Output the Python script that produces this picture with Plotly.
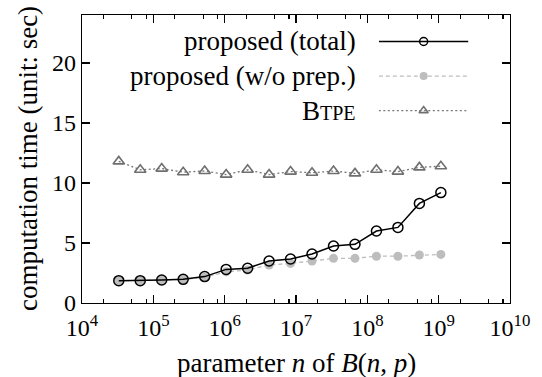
import plotly.graph_objects as go

# ---- data ----
n_values = [32768, 65536, 131072, 262144, 524288, 1048576, 2097152, 4194304,
            8388608, 16777216, 33554432, 67108864, 134217728, 268435456,
            536870912, 1073741824]
total = [1.86, 1.86, 1.92, 1.97, 2.2, 2.8, 2.9, 3.5, 3.67, 4.08, 4.75, 4.89,
         6.0, 6.3, 8.3, 9.2]
wo_prep = [1.86, 1.86, 1.92, 1.97, 2.15, 2.6, 2.75, 3.17, 3.3, 3.5, 3.72, 3.72,
           3.9, 3.9, 4.0, 4.05]
btpe = [11.8, 11.1, 11.2, 10.9, 11.0, 10.7, 11.1, 10.7, 10.95, 10.85, 11.0,
        10.8, 11.1, 10.95, 11.3, 11.4]

x_exponents = [4, 5, 6, 7, 8, 9, 10]
x_tick_text = ["10<sup>%d</sup>" % e for e in x_exponents]
y_ticks = [0, 5, 10, 15, 20]
legend_names = ["proposed (total)", "proposed (w/o prep.)",
                "B<span style='font-size:20px'>TPE</span>"]
x_title = "parameter <i>n</i> of <i>B</i>(<i>n</i>, <i>p</i>)"
y_title = "computation time (unit: sec)"

FONT = "Liberation Serif"
FS_TICK = 24
FS_TEXT = 27

series = [
    dict(y=wo_prep, line=dict(color="#bdbdbd", width=1.3, dash="4px,3px"),
         marker=dict(symbol="circle", size=9, color="#bdbdbd",
                     line=dict(width=0))),
    dict(y=btpe, line=dict(color="#777777", width=1.3, dash="2px,2.5px"),
         marker=dict(symbol="triangle-up-open", size=10, color="#6f6f6f",
                     line=dict(width=1.6))),
    dict(y=total, line=dict(color="black", width=1.5),
         marker=dict(symbol="circle-open", size=10, color="black",
                     line=dict(width=1.5))),
]
legend_order = [2, 0, 1]  # total, w/o prep, btpe

fig = go.Figure()
for s in series:
    fig.add_trace(go.Scatter(x=n_values, y=s["y"], mode="lines+markers",
                             line=s["line"], marker=s["marker"],
                             showlegend=False, xaxis="x", yaxis="y"))

# manual legend (text left, sample right)
row_top = 0.908
row_gap = 0.12
for i, (name, si) in enumerate(zip(legend_names, legend_order)):
    s = series[si]
    yy = row_top - i * row_gap
    mk = dict(s["marker"])
    mk["size"] = 8
    fig.add_trace(go.Scatter(x=[0, 1], y=[yy, yy], mode="lines", line=s["line"],
                             showlegend=False, xaxis="x2", yaxis="y2",
                             hoverinfo="skip"))
    fig.add_trace(go.Scatter(x=[0.5], y=[yy], mode="markers", marker=mk,
                             showlegend=False, xaxis="x2", yaxis="y2",
                             hoverinfo="skip"))
    fig.add_annotation(text=name, xref="paper", yref="paper", x=0.645, y=yy,
                       xanchor="right", yanchor="middle", showarrow=False,
                       font=dict(family=FONT, size=FS_TEXT, color="black"))

# axis titles
fig.add_annotation(text=x_title, xref="paper", yref="paper", x=0.5, y=-0.208,
                   xanchor="center", yanchor="middle", showarrow=False,
                   font=dict(family=FONT, size=FS_TEXT, color="black"))
fig.add_annotation(text=y_title, xref="paper", yref="paper", x=-0.126, y=0.5,
                   xanchor="center", yanchor="middle", showarrow=False,
                   textangle=-90,
                   font=dict(family=FONT, size=FS_TEXT, color="black"))

minor_vals = []
for e in range(4, 10):
    for m in (2, 5, 8):
        minor_vals.append(m * 10 ** e)

fig.update_layout(
    width=542, height=377,
    margin=dict(l=82, r=26, t=15, b=74),
    paper_bgcolor="white", plot_bgcolor="rgba(0,0,0,0)",
    font=dict(family=FONT, size=FS_TICK, color="black"),
    xaxis=dict(type="log", range=[4, 10], tickmode="array",
               tickvals=[10 ** e for e in x_exponents], ticktext=x_tick_text,
               ticks="inside", ticklen=8, tickwidth=1.2, tickcolor="black",
               showline=True, linecolor="black", linewidth=1.3,
               mirror="allticks", showgrid=False, zeroline=False,
               ticklabelstandoff=3,
               minor=dict(tickmode="array", tickvals=minor_vals, ticks="inside",
                          ticklen=4, tickwidth=1.2, tickcolor="black",
                          showgrid=False),
               tickfont=dict(size=FS_TICK)),
    yaxis=dict(range=[0, 24], tickmode="array", tickvals=y_ticks,
               ticks="inside", ticklen=8, tickwidth=1.2, tickcolor="black",
               showline=True, linecolor="black", linewidth=1.3,
               mirror="allticks", showgrid=False, zeroline=False,
               tickfont=dict(size=FS_TICK)),
    xaxis2=dict(domain=[0.6935, 0.903], range=[0, 1], visible=False,
                anchor="y2"),
    yaxis2=dict(domain=[0, 1], range=[0, 1], visible=False, anchor="x2"),
)

fig.write_html("out.html",
               config={"displayModeBar": False, "staticPlot": True},
               post_script="document.body.style.margin='0';"
                           "document.body.style.padding='0';")
